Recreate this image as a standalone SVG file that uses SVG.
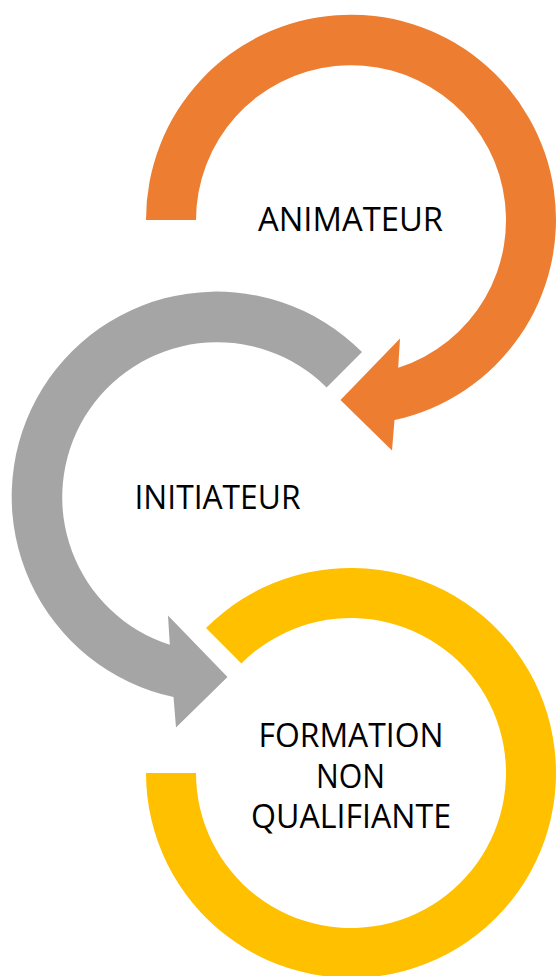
<svg xmlns="http://www.w3.org/2000/svg" width="557" height="976" viewBox="0 0 557 976">
<style>
.lbl{font-family:"Open Sans","Liberation Sans",sans-serif;font-size:32px;fill:#000;text-anchor:middle}
.orange{fill:#ED7D31}
.gray{fill:#A5A5A5}
.yellow{fill:#FFC000}
</style>
<rect width="557" height="976" fill="#fff"/>
<g id="node-animateur">
<path class="orange" d="M146,220 A205,205 0 1 1 394.5,420 L392,450.5 L340.5,400 L400,338.5 L398.2,367.8 A155,155 0 1 0 196,220 Z"/>
<text class="lbl" x="350.5" y="231" textLength="185" lengthAdjust="spacingAndGlyphs">ANIMATEUR</text>
</g>
<g id="node-initiateur">
<path class="gray" d="M362,352 A205,205 0 1 0 173.5,697 L176,727.5 L227.5,677 L168,615.5 L169.8,644.8 A155,155 0 1 1 326.6,387.4 Z"/>
<text class="lbl" x="217.5" y="509" textLength="166" lengthAdjust="spacingAndGlyphs">INITIATEUR</text>
</g>
<g id="node-formation">
<path class="yellow" d="M206,628 A205,205 0 1 1 146,773 L196,773 A155,155 0 1 0 241.4,663.4 Z"/>
<text class="lbl" x="351" y="747" textLength="185" lengthAdjust="spacingAndGlyphs">FORMATION</text>
<text class="lbl" x="350.5" y="788" textLength="69" lengthAdjust="spacingAndGlyphs">NON</text>
<text class="lbl" x="351" y="828" textLength="200" lengthAdjust="spacingAndGlyphs">QUALIFIANTE</text>
</g>
</svg>
